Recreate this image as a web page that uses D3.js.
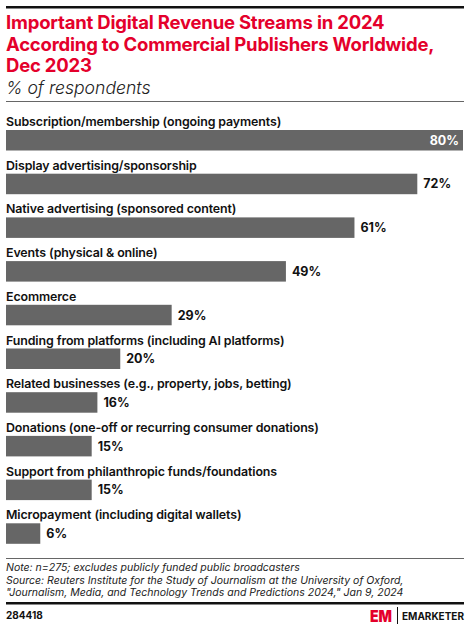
<!DOCTYPE html>
<html>
<head>
<meta charset="utf-8">
<script src="https://cdn.jsdelivr.net/npm/d3@7"></script>
<style>
html,body{margin:0;padding:0;background:#fff;}
svg{display:block;font-family:Inter,"Noto Sans",sans-serif;}
</style>
</head>
<body>
<svg id="chart" width="470" height="628"></svg>
<script>
const titleLines = ["Important Digital Revenue Streams in 2024","According to Commercial Publishers Worldwide,","Dec 2023"];
const subtitle = "% of respondents";
const categories = [
  "Subscription/membership (ongoing payments)",
  "Display advertising/sponsorship",
  "Native advertising (sponsored content)",
  "Events (physical & online)",
  "Ecommerce",
  "Funding from platforms (including AI platforms)",
  "Related businesses (e.g., property, jobs, betting)",
  "Donations (one-off or recurring consumer donations)",
  "Support from philanthropic funds/foundations",
  "Micropayment (including digital wallets)"
];
const values = [80, 72, 61, 49, 29, 20, 16, 15, 15, 6];
const noteLines = [
  "Note: n=275; excludes publicly funded public broadcasters",
  "Source: Reuters Institute for the Study of Journalism at the University of Oxford,",
  "\"Journalism, Media, and Technology Trends and Predictions 2024,\" Jan 9, 2024"
];
const chartId = "284418";

const svg = d3.select("#chart");
const left = 6, right = 464;

// top rule
svg.append("rect").attr("x", left).attr("y", 6).attr("width", right - left).attr("height", 2.5).attr("fill", "#111");

// title
svg.append("g").selectAll("text").data(titleLines).join("text")
  .attr("x", left).attr("y", (d, i) => 29 + i * 21.7)
  .attr("fill", "#e4002b").attr("font-size", 18.5).attr("font-weight", 700)
  .attr("letter-spacing", -0.2)
  .text(d => d);

svg.append("text").attr("x", left).attr("y", 94)
  .attr("font-size", 17.6).attr("font-style", "italic").attr("font-weight", 300)
  .attr("fill", "#222").text(subtitle);

svg.append("rect").attr("x", left).attr("y", 101).attr("width", right - left).attr("height", 1).attr("fill", "#666");

// scales
const x = d3.scaleLinear().domain([0, 80]).range([left, 463]);
const y = d3.scaleBand().domain(categories).range([113.5, 550.5]).paddingInner(0).paddingOuter(0);
const barH = 20.5;
const barTop = d => y(d) + 16.5;

const g = svg.append("g");
const rows = g.selectAll("g.row").data(categories.map((c, i) => ({c, v: values[i], i}))).join("g");

rows.append("text")
  .attr("x", left).attr("y", d => barTop(d.c) - 4)
  .attr("font-size", 12.4).attr("font-weight", 600).attr("fill", "#111")
  .attr("letter-spacing", -0.1)
  .text(d => d.c);

rows.append("rect")
  .attr("x", x(0)).attr("y", d => barTop(d.c))
  .attr("width", d => x(d.v) - x(0)).attr("height", barH)
  .attr("fill", "#666666");

rows.append("text")
  .attr("x", d => d.i === 0 ? x(d.v) - 4 : x(d.v) + 6)
  .attr("y", d => barTop(d.c) + barH / 2 + 4.5)
  .attr("text-anchor", d => d.i === 0 ? "end" : "start")
  .attr("font-size", 12.5).attr("font-weight", 700)
  .attr("fill", d => d.i === 0 ? "#fff" : "#111")
  .text(d => d.v + "%");

// footer
svg.append("rect").attr("x", left).attr("y", 558).attr("width", right - left).attr("height", 1).attr("fill", "#666");
svg.append("g").selectAll("text").data(noteLines).join("text")
  .attr("x", left).attr("y", (d, i) => 571 + i * 12.5)
  .attr("font-size", 10.5).attr("font-style", "italic").attr("font-weight", 400).attr("fill", "#222")
  .text(d => d);
svg.append("rect").attr("x", left).attr("y", 602).attr("width", right - left).attr("height", 2.5).attr("fill", "#111");
svg.append("text").attr("x", left).attr("y", 619).attr("font-size", 10).attr("font-weight", 700).attr("fill", "#111").text(chartId);

// logo
svg.append("text").attr("x", 370).attr("y", 622).attr("font-size", 16).attr("font-weight", 900)
  .attr("fill", "#e4002b").attr("textLength", 22).attr("lengthAdjust", "spacingAndGlyphs").text("EM");
svg.append("rect").attr("x", 397).attr("y", 607).attr("width", 1).attr("height", 17).attr("fill", "#111");
svg.append("text").attr("x", 402).attr("y", 620).attr("font-size", 10.5).attr("font-weight", 700)
  .attr("fill", "#111").attr("textLength", 62).attr("lengthAdjust", "spacingAndGlyphs").text("EMARKETER");
</script>
</body>
</html>
